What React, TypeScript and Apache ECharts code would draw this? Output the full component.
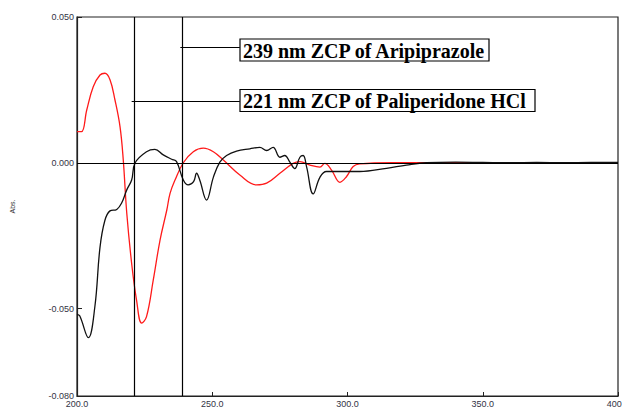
import React, { useEffect, useRef } from "react";
import * as echarts from "echarts";

const xTicks = [200, 250, 300, 350, 400];
const yTicks = [-0.08, -0.05, 0, 0.05];
const zcpLines = [221, 239];
const zcpLabels = ["221 nm ZCP of Paliperidone HCl", "239 nm ZCP of Aripiprazole"];

const wlBlack = [200, 201, 204.2, 206.6, 208.5, 210.3, 212.2, 214.7, 216.5, 218.4, 220.2, 221.5, 225.7, 228.8, 231.9, 235, 236.8, 239.3, 241.1, 243.1, 244.2, 245.4, 247.9, 250.4, 252.8, 255.3, 259, 263.9, 267.6, 270.1, 272.5, 275, 276.8, 278.7, 280.5, 282.4, 283.6, 284.9, 287.3, 289.8, 292.2, 299.6, 304.5, 314.4, 321.8, 329.2, 340, 350, 360, 370, 380, 390, 400];
const absBlack = [-0.052, -0.0525, -0.06, -0.0494, -0.029, -0.0198, -0.0165, -0.016, -0.0138, -0.0093, -0.0059, 0.0, 0.0038, 0.0046, 0.0027, 0.0012, 0.0004, -0.0059, -0.0076, -0.0065, -0.0036, -0.006, -0.0128, -0.005, 0.0002, 0.0025, 0.004, 0.0048, 0.0053, 0.0042, 0.0053, 0.0019, 0.0025, 0.0002, -0.002, 0.0019, 0.0025, -0.0015, -0.0107, -0.005, -0.003, -0.003, -0.003, -0.0019, -0.0008, 0.0, 0.0002, 0.0001, 0, 0.0001, 0, 0.0001, 0.0001];

const wlRed = [200, 201.7, 203.6, 206, 208.5, 210.3, 212.2, 214, 215.9, 217.1, 218.4, 220.2, 222, 223.9, 225.7, 228.2, 230.7, 233.2, 234.4, 236.2, 239.3, 243, 246.7, 250.4, 254, 260.2, 266.4, 270.1, 275, 279.9, 282.4, 286.1, 289.8, 291.6, 294.1, 297.2, 299.6, 302.1, 304.5, 316.8, 329.2, 350, 375, 400];
const absRed = [0.0107, 0.0107, 0.0181, 0.0261, 0.0301, 0.0307, 0.0285, 0.0217, 0.0124, 0.001, -0.0173, -0.0345, -0.047, -0.055, -0.0528, -0.0402, -0.0265, -0.0162, -0.0105, -0.006, 0.0, 0.0038, 0.005, 0.0038, 0.001, -0.0042, -0.0076, -0.007, -0.0036, -0.0002, 0.0004, -0.0008, -0.0015, -0.0002, -0.0025, -0.0067, -0.0048, -0.0013, -0.0004, 0, 0, 0, 0, 0];

export default function App() {
  const ref = useRef<HTMLDivElement>(null);
  useEffect(() => {
    if (!ref.current) return;
    const chart = echarts.init(ref.current, null, { renderer: "svg" });
    const lineStyle = { color: "#000", width: 1.2, type: "solid" as const };
    const connY = [0.0211, 0.0396];
    const boxX = 260.2;
    chart.setOption({
      animation: false,
      backgroundColor: "#fff",
      grid: {
        left: 77, right: 4, top: 17, bottom: 12,
        show: true, borderColor: "#222", borderWidth: 1.2,
        containLabel: false, outerBoundsMode: "none",
      },
      xAxis: {
        type: "value",
        min: 200,
        max: 400,
        interval: 50,
        axisLine: { show: true, onZero: false, lineStyle: { color: "#222", width: 1.2 } },
        axisTick: { show: true, inside: true, length: 4, lineStyle: { color: "#222" } },
        axisLabel: {
          show: true,
          customValues: xTicks,
          formatter: (v: number) => v.toFixed(1),
          fontSize: 9,
          fontFamily: "Liberation Sans",
          color: "#334",
          margin: 3,
          hideOverlap: false,
        },
        splitLine: { show: false },
      },
      yAxis: {
        type: "value",
        min: -0.08,
        max: 0.05,
        name: "Abs.",
        nameLocation: "middle",
        nameRotate: 90,
        nameGap: 61,
        nameTextStyle: { fontSize: 7, fontFamily: "Liberation Sans", color: "#333" },
        axisLine: { show: true, onZero: false, lineStyle: { color: "#222", width: 1.2 } },
        axisTick: { show: true, inside: true, length: 5, customValues: yTicks, lineStyle: { color: "#222" } },
        axisLabel: {
          show: true,
          customValues: yTicks,
          formatter: (v: number) => v.toFixed(3),
          fontSize: 9,
          fontFamily: "Liberation Sans",
          color: "#334",
          margin: 3,
        },
        splitLine: { show: false },
      },
      series: [
        {
          type: "line",
          data: wlRed.map((w, i) => [w, absRed[i]]),
          smooth: 0.4,
          showSymbol: false,
          lineStyle: { color: "#ff1a1a", width: 1.3 },
          z: 3,
        },
        {
          type: "line",
          data: wlBlack.map((w, i) => [w, absBlack[i]]),
          smooth: 0.4,
          showSymbol: false,
          lineStyle: { color: "#111", width: 1.3 },
          z: 4,
          markLine: {
            silent: true,
            symbol: ["none", "none"],
            label: { show: false },
            lineStyle,
            data: [
              { yAxis: 0 },
              { xAxis: zcpLines[0] },
              { xAxis: zcpLines[1] },
              [{ coord: [zcpLines[0] - 0.8, connY[0]] }, { coord: [boxX, connY[0]] }],
              [{ coord: [zcpLines[1] - 0.8, connY[1]] }, { coord: [boxX, connY[1]] }],
            ],
          },
        },
      ],
      graphic: [
        {
          type: "group",
          z: 100,
          children: [
            { type: "rect", shape: { x: 240, y: 39, width: 249, height: 22 }, style: { fill: "#fff", stroke: "#000", lineWidth: 1.2 } },
            {
              type: "text",
              x: 243,
              y: 50.5,
              style: { text: zcpLabels[1], font: 'bold 20px "Liberation Serif"', fill: "#000", verticalAlign: "middle" },
            },
            { type: "rect", shape: { x: 240, y: 89.5, width: 295, height: 22 }, style: { fill: "#fff", stroke: "#000", lineWidth: 1.2 } },
            {
              type: "text",
              x: 243,
              y: 101,
              style: { text: zcpLabels[0], font: 'bold 20px "Liberation Serif"', fill: "#000", verticalAlign: "middle" },
            },
          ],
        },
      ],
    });
    return () => chart.dispose();
  }, []);
  return <div ref={ref} style={{ position: "fixed", left: 0, top: 0, width: 622, height: 408, background: "#fff" }} />;
}
